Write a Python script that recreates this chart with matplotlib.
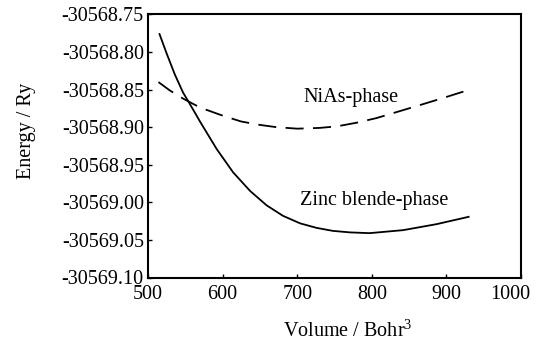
import matplotlib
matplotlib.use("Agg")
import matplotlib.pyplot as plt
import matplotlib.transforms as mtrans
from matplotlib.ticker import FormatStrFormatter, FixedLocator

plt.rcParams['font.family'] = ['Liberation Serif', 'DejaVu Serif']
plt.rcParams['mathtext.fontset'] = 'custom'
plt.rcParams['mathtext.rm'] = 'Liberation Serif'
plt.rcParams['axes.unicode_minus'] = False

# Zinc blende phase (solid line)
vol_zb = [515, 525, 536, 547, 556, 570, 592, 614, 637, 659, 681, 704, 726, 748, 771,
          797, 842, 887, 931]
energy_zb = [-30568.775, -30568.802, -30568.830, -30568.854, -30568.869, -30568.893,
             -30568.929, -30568.960, -30568.985, -30569.004, -30569.018, -30569.028,
             -30569.034, -30569.038, -30569.040, -30569.041, -30569.037, -30569.029,
             -30569.019]

# NiAs phase (dashed line)
vol_nias = [514, 529, 547, 570, 601, 625, 650, 672, 700, 730, 753, 780, 806, 833, 860,
            893, 925]
energy_nias = [-30568.840, -30568.851, -30568.862, -30568.874, -30568.885, -30568.8925,
               -30568.897, -30568.900, -30568.902, -30568.901, -30568.899, -30568.894,
               -30568.888, -30568.880, -30568.872, -30568.862, -30568.852]

x_ticks = [500, 600, 700, 800, 900, 1000]
y_ticks = [-30569.10, -30569.05, -30569.00, -30568.95, -30568.90, -30568.85, -30568.80, -30568.75]

label_nias = "NiAs-phase"
label_zb = "Zinc blende-phase"

fs = 14.5
fig = plt.figure(figsize=(5.38, 3.45), dpi=100)
ax = fig.add_axes([148/538, 1-277.5/345, 373/538, 263.1/345])

ax.plot(vol_zb, energy_zb, color='black', lw=1.3, solid_capstyle='butt',
        solid_joinstyle='round')
ax.plot(vol_nias, energy_nias, color='black', lw=1.3, dashes=(10, 5.2))

ax.set_xlim(500, 1000)
ax.set_ylim(-30569.10, -30568.75)
ax.xaxis.set_major_locator(FixedLocator(x_ticks))
ax.yaxis.set_major_locator(FixedLocator(y_ticks))
ax.yaxis.set_major_formatter(FormatStrFormatter('%.2f'))
ax.xaxis.set_major_formatter(FormatStrFormatter('%d'))

for s in ax.spines.values():
    s.set_linewidth(1.5)
ax.tick_params(axis='both', direction='in', length=3, width=1.0, labelsize=fs,
               top=False, right=False)
ax.tick_params(axis='x', pad=5.5)
ax.tick_params(axis='y', pad=3)

ax.text(708, -30568.866, label_nias, fontsize=fs, ha='left', va='baseline')
ax.text(703.6, -30569.003, label_zb, fontsize=fs, ha='left', va='baseline')

fig.text(27/538, 1-131/345, "Energy / Ry", rotation=90, ha='center', va='center', fontsize=fs)
fig.text(348/538, 1-337/345, r"Volume / Bohr$^3$", ha='center', va='baseline', fontsize=fs)

# shift the last x tick label ("1000") left so it stays inside the figure
fig.canvas.draw()
last = ax.get_xticklabels()[-1]
last.set_transform(last.get_transform() +
                   mtrans.ScaledTranslation(-11/100, 0, fig.dpi_scale_trans))

fig.savefig("out.png", dpi=100)
